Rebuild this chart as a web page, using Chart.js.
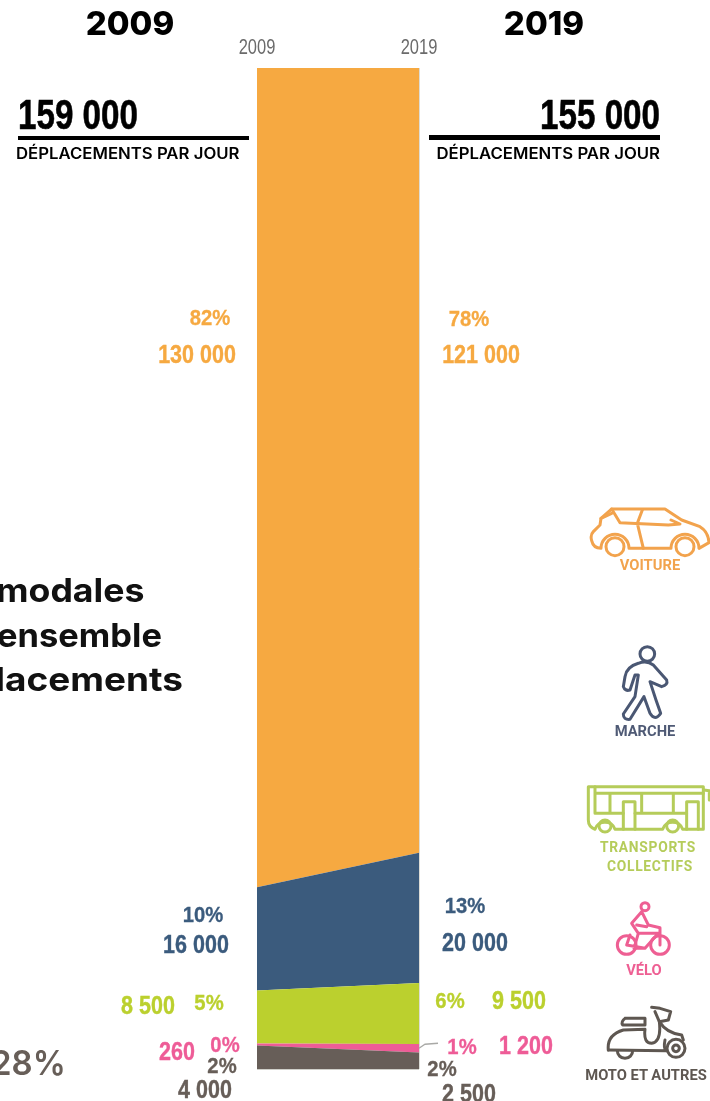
<!DOCTYPE html>
<html>
<head>
<meta charset="utf-8">
<style>
  html, body { margin: 0; padding: 0; background: #fff; width: 710px; height: 1101px; overflow: hidden; }
  #wrap { position: relative; width: 710px; height: 1101px; overflow: hidden; }
  canvas { position: absolute; left: 0; top: 0; }
  .t { position: absolute; white-space: pre; line-height: 1; }
  .rule { position: absolute; background: #000; }
  svg { position: absolute; left: 0; top: 0; }
  svg * { fill: none; stroke-linecap: round; stroke-linejoin: round; }
</style>
<script src="https://cdn.jsdelivr.net/npm/chart.js@4"></script>
</head>
<body>
<div id="wrap">
  <canvas id="modalChart" width="710" height="1101"></canvas>
  <svg width="710" height="1101" viewBox="0 0 710 1101">
    <!-- car -->
    <g transform="translate(585,500) scale(.3333)" stroke="#f2a34d" stroke-width="9">
      <path d="M20 122 Q15 105 25 95 L45 75 L48 55 L80 27 L240 27 L290 60 L345 80 Q370 95 372 128 L342 145 A42 42 0 0 0 258 145 L132 145 A42 42 0 0 0 48 145 Q25 145 20 122"/>
      <circle cx="90" cy="140" r="27"/><circle cx="300" cy="140" r="27"/>
      <path d="M80 27 L105 68 L250 75 L285 72 L258 60 M172 30 L157 70 L175 145 M48 55 L80 40"/>
    </g>
    <!-- walker -->
    <g transform="translate(570,490) scale(.3333)" stroke="#4a5773" stroke-width="9">
      <circle cx="232" cy="492" r="22"/>
      <path d="M205 520 Q170 530 165 560 L160 590 Q165 605 180 600 L195 555 L205 555 L195 620 L160 672 Q160 690 180 688 L222 620 L240 670 Q255 695 272 670 L258 630 L240 575 L275 590 Q295 585 290 570 L250 525 Q230 510 205 520 Z"/>
    </g>
    <!-- bus -->
    <g transform="translate(570,770) scale(.3333)" stroke="#b5cc5a" stroke-width="9">
      <path d="M55 50 L400 50 L400 178 L338 178 A32 32 0 0 0 278 178 L135 178 A32 32 0 0 0 75 178 Q55 170 55 150 Z"/>
      <path d="M75 50 L75 130 M75 130 L160 130 M195 130 L350 130 M120 70 L120 130 M215 70 L215 130 M310 70 L310 130 M75 70 L400 70"/>
      <path d="M160 178 L160 95 L195 95 L195 178 M350 178 L350 95 L385 95 L385 178"/>
      <circle cx="105" cy="168" r="18"/><circle cx="308" cy="168" r="18"/>
      <path d="M402 60 L418 62 L418 90"/>
    </g>
    <!-- bike -->
    <g transform="translate(610,895) scale(.3333)" stroke="#ee5f93" stroke-width="9">
      <circle cx="105" cy="35" r="12"/>
      <circle cx="50" cy="150" r="28"/><circle cx="150" cy="150" r="28"/>
      <path d="M95 50 L65 85 L85 115 L72 160 L105 160 M95 50 L115 90 L150 98 L150 150 M80 90 L110 95 M60 120 L50 150 L105 160 L145 115 L85 115"/>
    </g>
    <!-- scooter -->
    <g transform="translate(600,1000) scale(.3333)" stroke="#5e5751" stroke-width="9">
      <circle cx="228" cy="145" r="27"/><circle cx="228" cy="145" r="10"/>
      <path d="M52 152 A22 22 0 0 0 98 152"/>
      <path d="M75 55 L135 55 L135 75 L68 75 Q62 65 75 55"/>
      <path d="M25 150 Q20 105 70 90 L135 88 Q130 130 155 130 Q185 125 178 65 L205 60 L212 35 L180 25 L155 22 M165 35 L178 65"/>
      <path d="M178 65 Q200 100 245 105 L250 120 M195 120 Q190 145 198 152 L25 150"/>
    </g>
  </svg>
</div>
<script>
// values
var years = ["2009", "2019"];
var modes = ["VOITURE", "MARCHE", "TRANSPORTS COLLECTIFS", "VÉLO", "MOTO ET AUTRES"];
var colors = ["#f6a941", "#3b5b7d", "#bbd02e", "#ee5c97", "#675e58"];
var voiture = [81.85, 78.4];
var marche = [10.3, 13.0];
var transports = [5.3, 6.1];
var velo = [0.2, 0.85];
var moto = [2.35, 1.65];
var totals = [159000, 155000];
var trips2009 = [130000, 16000, 8500, 260, 4000];
var trips2019 = [121000, 20000, 9500, 1200, 2500];
var pct2009 = [82, 10, 5, 0, 2];
var pct2019 = [78, 13, 6, 1, 2];

var NARROW = '"Liberation Sans", sans-serif';
var wrap = document.getElementById("wrap");

function fmt(n) {
  return String(n).replace(/\B(?=(\d{3})+$)/g, " ");
}

// a = anchor: l, c or r, sx squeezes the text around that anchor
function put(text, x, y, size, color, font, weight, a, sx, spacing, thick) {
  var d = document.createElement("div");
  d.className = "t";
  d.textContent = text;
  d.style.font = weight + " " + size + "px " + font;
  d.style.lineHeight = "1";
  d.style.color = color;
  d.style.top = y + "px";
  d.style.left = x + "px";
  if (spacing) d.style.letterSpacing = spacing + "px";
  if (thick) d.style.webkitTextStroke = thick + "px " + color;
  var tx = a == "c" ? "-50%" : a == "r" ? "-100%" : "0";
  d.style.transformOrigin = (a == "c" ? "50%" : a == "r" ? "100%" : "0") + " 50%";
  d.style.transform = "translate(" + tx + ",-50%)" + (sx ? " scaleX(" + sx + ")" : "");
  wrap.appendChild(d);
}

function rule(x, y, w, h) {
  var d = document.createElement("div");
  d.className = "rule";
  d.style.cssText = "left:" + x + "px;top:" + y + "px;width:" + w + "px;height:" + h + "px";
  wrap.appendChild(d);
}

// headers
put(years[0], 130, 23, 33, "#000", "Inter", 800, "c");
put(years[1], 544, 23, 33, "#000", "Inter", 800, "c");
put(fmt(totals[0]), 18, 115, 42, "#000", NARROW, 700, "l", 0.79, 0, 0.6);
put(fmt(totals[1]), 660, 115, 42, "#000", NARROW, 700, "r", 0.79, 0, 0.6);
rule(18, 136, 231, 4);
rule(429, 135, 231, 5);
put("DÉPLACEMENTS PAR JOUR", 16, 154, 15.5, "#000", "Inter", 600, "l", 1.08);
put("DÉPLACEMENTS PAR JOUR", 660, 154, 15.5, "#000", "Inter", 600, "r", 1.08);

// left text, cut by the page edge
put("modales", -4, 590, 33, "#111", "Inter", 700, "l", 1.08);
put("ensemble", -3, 635, 33, "#111", "Inter", 700, "l", 1.045);
put("lacements", -5, 679, 33, "#111", "Inter", 700, "l", 1.12);
put("28%", -9, 1063, 34, "#675e58", "Inter", 600, "l", 0.97);

// percent and volume labels, same order as the modes
var pctLeftAt = [[210, 318], [203, 915], [209, 1003], [225, 1045], [222, 1066]];
var numLeftAt = [[197, 354], [196, 944], [148, 1005], [177, 1051], [205, 1089]];
var pctRightAt = [[469, 319], [465, 906], [450, 1001], [462, 1047], [442, 1069]];
var numRightAt = [[481, 354], [475, 942], [519, 1000], [526, 1045], [469, 1093]];
modes.forEach(function (m, i) {
  put(pct2009[i] + "%", pctLeftAt[i][0], pctLeftAt[i][1], 22, colors[i], NARROW, 700, "c", 0.92, 0, 0.3);
  put(fmt(trips2009[i]), numLeftAt[i][0], numLeftAt[i][1], 25, colors[i], NARROW, 700, "c", 0.86, 0, 0.4);
  put(pct2019[i] + "%", pctRightAt[i][0], pctRightAt[i][1], 22, colors[i], NARROW, 700, "c", 0.92, 0, 0.3);
  put(fmt(trips2019[i]), numRightAt[i][0], numRightAt[i][1], 25, colors[i], NARROW, 700, "c", 0.86, 0, 0.4);
});

// icon captions
put("VOITURE", 650, 566, 15.5, "#f2a34d", "Roboto", 700, "c", 0.95);
put("MARCHE", 645, 732, 15.5, "#4f5a75", "Roboto", 700, "c", 0.95);
put("TRANSPORTS", 648, 847, 15, "#b5cc5a", "Roboto", 700, "c", 0.92, 0.8);
put("COLLECTIFS", 650, 866, 15, "#b5cc5a", "Roboto", 700, "c", 0.92, 0.8);
put("VÉLO", 644, 971, 15.5, "#ee5f93", "Roboto", 700, "c", 0.95);
put("MOTO ET AUTRES", 646, 1076, 15.5, "#5e5751", "Roboto", 700, "c", 0.95);

var series = [moto, velo, transports, marche, voiture];
var seriesColors = colors.slice().reverse();
var seriesNames = modes.slice().reverse();

// thin grey line from the pink band to its 2019 label
var leader = {
  id: "leader",
  afterDraw: function (chart) {
    var sx = chart.scales.x, sy = chart.scales.y, c = chart.ctx;
    var x = sx.getPixelForValue(1);
    var y = sy.getPixelForValue(moto[1] + velo[1] / 2);
    c.save();
    c.strokeStyle = "#a9a9a6";
    c.lineWidth = 1.3;
    c.beginPath();
    c.moveTo(x, y);
    c.lineTo(x + 6, y - 4);
    c.lineTo(x + 19, y - 5);
    c.stroke();
    c.restore();
  }
};

// no narrow font installed, so the axis labels are squeezed by hand at the tick position
var narrowTicks = {
  id: "narrowTicks",
  afterDraw: function (chart) {
    var sx = chart.scales.x, c = chart.ctx;
    c.save();
    c.fillStyle = "#6b6b6b";
    c.font = '400 22px "Liberation Sans"';
    c.textAlign = "center";
    c.textBaseline = "middle";
    sx.ticks.forEach(function (t, i) {
      c.save();
      c.translate(sx.getPixelForTick(i), chart.chartArea.top - 20);
      c.scale(0.75, 1);
      c.fillText(t.label, 0, 0);
      c.restore();
    });
    c.restore();
  }
};

new Chart(document.getElementById("modalChart").getContext("2d"), {
  type: "line",
  data: {
    labels: years,
    datasets: series.map(function (s, i) {
      return {
        label: seriesNames[i],
        data: s,
        backgroundColor: seriesColors[i],
        borderWidth: 0,
        pointRadius: 0,
        tension: 0,
        fill: i == 0 ? "origin" : "-1"
      };
    })
  },
  options: {
    responsive: false,
    animation: false,
    layout: { padding: { left: 257, right: 291, top: 0, bottom: 32 } },
    plugins: { legend: { display: false }, tooltip: { enabled: false } },
    scales: {
      x: {
        position: "top",
        offset: false,
        afterFit: function (s) { s.height = 68; },
        grid: { display: true, color: "#dcdcd6", drawTicks: false, lineWidth: 1 },
        border: { display: false },
        ticks: { display: false, autoSkip: false }
      },
      y: {
        stacked: true,
        min: 0,
        max: 100,
        display: true,
        afterFit: function (s) { s.width = 0; },
        grid: { display: true, color: "#cfcfc9", drawTicks: false },
        border: { display: false },
        ticks: { display: false, stepSize: 100 }
      }
    }
  },
  plugins: [leader, narrowTicks]
});
</script>
</body>
</html>
